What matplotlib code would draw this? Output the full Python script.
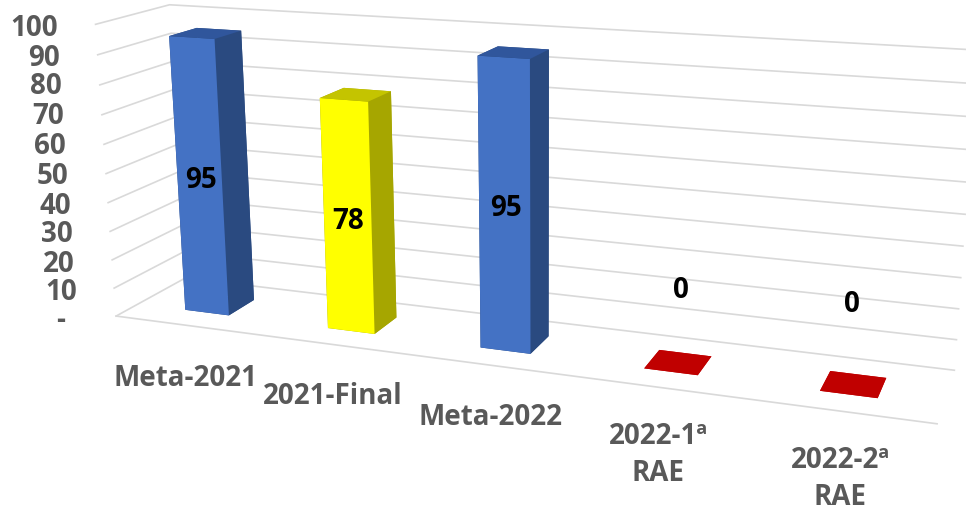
import matplotlib
matplotlib.use("Agg")
import matplotlib.pyplot as plt
from mpl_toolkits.mplot3d import proj3d

plt.rcParams['font.family'] = ['Open Sans', 'DejaVu Sans']

categories = ['Meta-2021', '2021-Final', 'Meta-2022', '2022-1ª\nRAE', '2022-2ª\nRAE']
values = [95, 78, 95, 0, 0]
z_ticks = [0, 10, 20, 30, 40, 50, 60, 70, 80, 90, 100]
z_labels = ['-', '10', '20', '30', '40', '50', '60', '70', '80', '90', '100']

# face colours: front, side, top
blue = ('#4472C4', '#2A4A80', '#30569C')
yellow = ('#FFFF00', '#A6A600', '#C4C400')
red = ('#C00000', '#C00000', '#C00000')
bar_colors = [blue, yellow, blue, red, red]

W, H = 966, 510
GRID = '#D9D9D9'
TEXT = '#595959'
FS = 20
bar_w = 0.3127
bar_d = 0.3887

fig = plt.figure(figsize=(W / 100, H / 100), dpi=100)
cx, cy, s = 502.02, 206.14, 901.86
ax = fig.add_axes([(cx - s / 2) / W, (H - cy - s / 2) / H, s / W, s / H], projection='3d')
ax.view_init(15.06, -69.43, 0.26)
ax.set_proj_type('persp', focal_length=0.3402)
ax.set_box_aspect((1, 0.1634, 0.3665))
ax.computed_zorder = False
ax.set_axis_off()

n = len(values)
for z in z_ticks:
    ax.plot([0, 0, n], [0, 1, 1], [z, z, z], color=GRID, lw=1.2, clip_on=False, zorder=1)
ax.plot([0, n], [0, 0], [0, 0], color=GRID, lw=1.2, clip_on=False, zorder=1)

for i, v in enumerate(values):
    front, side, top = bar_colors[i]
    ax.bar3d(i + 0.5 - bar_w / 2, 0.5 - bar_d / 2, 0, bar_w, bar_d, v,
             color=[side, top, front, side, side, side], shade=False,
             linewidth=0, edgecolor='none', zorder=2 + i, clip_on=False)

ax.set_xlim(0, n)
ax.set_ylim(0, 1)
ax.set_zlim(0, 100)

# value labels sit mid height on the front face, the zero ones float above the floor
label_z = [47, 38, 47.5, 27, 28.5]
label_dx = [0.01, 0, 0.01, 0.05, -0.01]
M = ax.get_proj()
for i, v in enumerate(values):
    x2, y2, _ = proj3d.proj_transform(i + 0.5 + label_dx[i], 0.5 - bar_d / 2, label_z[i], M)
    ax.text2D(x2, y2, str(v), transform=ax.transData, color='black', fontsize=FS,
              fontweight='bold', ha='center', va='center', zorder=10, clip_on=False)


def fig_text(x, y, txt, **kw):
    fig.text(x / W, 1 - y / H, txt, color=TEXT, fontsize=FS, fontweight='bold', **kw)


tick_right = [65, 77, 75, 73, 71, 68, 66, 64, 62, 60, 58]
tick_y = [321, 293, 264, 235, 206, 177, 147, 117, 87, 58, 29]
for lab, x, y in zip(z_labels, tick_right, tick_y):
    fig_text(x, y, lab, ha='right', va='center')

cat_x = [186, 333, 490, 658, 840]
cat_y = [378, 397, 418, 455, 479]
for lab, x, y in zip(categories, cat_x, cat_y):
    fig_text(x, y, lab, ha='center', va='center', linespacing=1.35)

fig.savefig('out.png', dpi=100)
